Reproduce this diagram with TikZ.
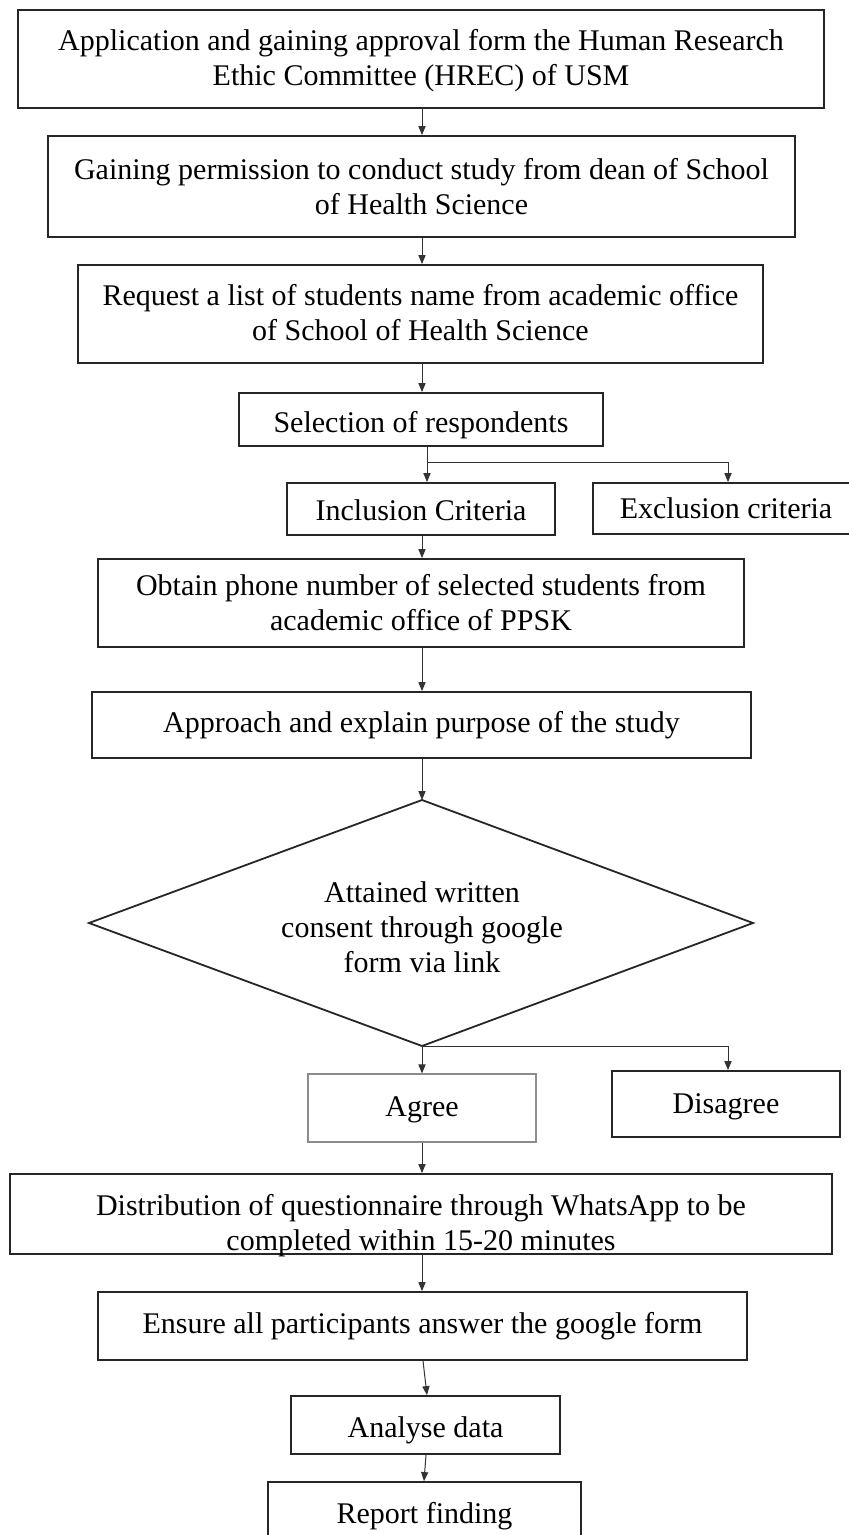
\documentclass[tikz,border=0pt]{standalone}
\usepackage{fontspec}
\setmainfont{Liberation Serif}
\usetikzlibrary{arrows.meta}
\newcommand{\txtdown}[2]{\raisebox{-#1}[\height][\depth]{\begin{tabular}{@{}c@{}}#2\end{tabular}}}
\tikzset{
  box/.style={draw=black!85, line width=0.9pt, inner sep=0pt, align=center, font=\fontsize{15}{17.5}\selectfont},
  lightbox/.style={box, draw=black!45, line width=0.6pt},
  flow/.style={draw=black!80, line width=0.5pt, -{Triangle[length=4.5pt,width=3.6pt]}},
  plain/.style={draw=black!80, line width=0.5pt},
  dia/.style={draw=black!85, line width=0.9pt, line join=miter},
  lbl/.style={inner sep=0pt, align=center, font=\fontsize{15}{17.5}\selectfont}
}
\begin{document}
\begin{tikzpicture}[x=0.5pt,y=-0.5pt]
\useasboundingbox (0,0) rectangle (849,1535);
% boxes
\node[box, minimum width=403pt, minimum height=49pt] (b1) at (421,59)
  {\txtdown{1pt}{Application and gaining approval form the Human Research\\Ethic Committee (HREC) of USM}};
\node[box, minimum width=373.5pt, minimum height=50.5pt] (b2) at (421.5,186.5)
  {Gaining permission to conduct study from dean of School\\of Health Science};
\node[box, minimum width=342.5pt, minimum height=49pt] (b3) at (420.5,314)
  {\txtdown{1pt}{Request a list of students name from academic office\\of School of Health Science}};
\node[box, minimum width=182pt, minimum height=26.5pt] (sel) at (421,419.5)
  {\txtdown{3pt}{Selection of respondents}};
\node[box, minimum width=134pt, minimum height=26pt] (inc) at (421,509)
  {\txtdown{2pt}{Inclusion Criteria}};
\node[box, minimum width=133pt, minimum height=25.5pt] (exc) at (726,508.5)
  {\txtdown{1.5pt}{Exclusion criteria}};
\node[box, minimum width=323pt, minimum height=44pt] (obt) at (421,603)
  {\txtdown{1.5pt}{Obtain phone number of selected students from\\academic office of PPSK}};
\node[box, minimum width=329.5pt, minimum height=33pt] (app) at (421.5,725)
  {Approach and explain purpose of the study};
% diamond
\coordinate (dT) at (422,800);
\coordinate (dL) at (89,923);
\coordinate (dR) at (753,923);
\coordinate (dB) at (422,1046);
\draw[dia] (dT) -- (dR) -- (dB) -- (dL) -- cycle;
\node[lbl] (dtext) at (422,927) {Attained written\\consent through google\\form via link};
\node[lightbox, minimum width=114pt, minimum height=34pt] (agr) at (422,1108) {\txtdown{0.5pt}{Agree}};
\node[box, minimum width=114pt, minimum height=33pt] (dis) at (726,1104) {\txtdown{1pt}{Disagree}};
\node[box, minimum width=411pt, minimum height=40pt] (dist) at (421,1214)
  {\txtdown{6pt}{Distribution of questionnaire through WhatsApp to be\\completed within 15-20 minutes}};
\node[box, minimum width=324.5pt, minimum height=34pt] (ens) at (422.5,1326)
  {Ensure all participants answer the google form};
\node[box, minimum width=134.5pt, minimum height=29pt] (ana) at (425.5,1425)
  {\txtdown{2.5pt}{Analyse data}};
\node[box, minimum width=156.5pt, minimum height=31.5pt] (rep) at (424.5,1513.5)
  {\txtdown{1.5pt}{Report finding}};
% connectors
\draw[flow] (b1.south -| 422,0) -- (b2.north -| 422,0);
\draw[flow] (b2.south -| 422,0) -- (b3.north -| 422,0);
\draw[flow] (b3.south -| 422,0) -- (sel.north -| 422,0);
\coordinate (s1) at (427,462);
\coordinate (s2) at (728,462);
\draw[plain] (sel.south -| s1) -- (s1) -- (s2);
\draw[flow] (s1) -- (inc.north -| s1);
\draw[flow] (s2) -- (exc.north -| s2);
\draw[flow] (inc.south -| 422,0) -- (obt.north -| 422,0);
\draw[flow] (obt.south -| 422,0) -- (app.north -| 422,0);
\draw[flow] (app.south -| 422,0) -- (dT);
\coordinate (d2) at (728,1046);
\draw[plain] (dB) -- (d2);
\draw[flow] (dB) -- (agr.north -| dB);
\draw[flow] (d2) -- (dis.north -| d2);
\draw[flow] (agr.south -| 422,0) -- (dist.north -| 422,0);
\draw[flow] (dist.south -| 422,0) -- (ens.north -| 422,0);
\draw[flow] (ens.south -| 423,0) -- (ana.north -| 427,0);
\draw[flow] (ana.south -| 426,0) -- (rep.north -| 424,0);
\end{tikzpicture}
\end{document}
